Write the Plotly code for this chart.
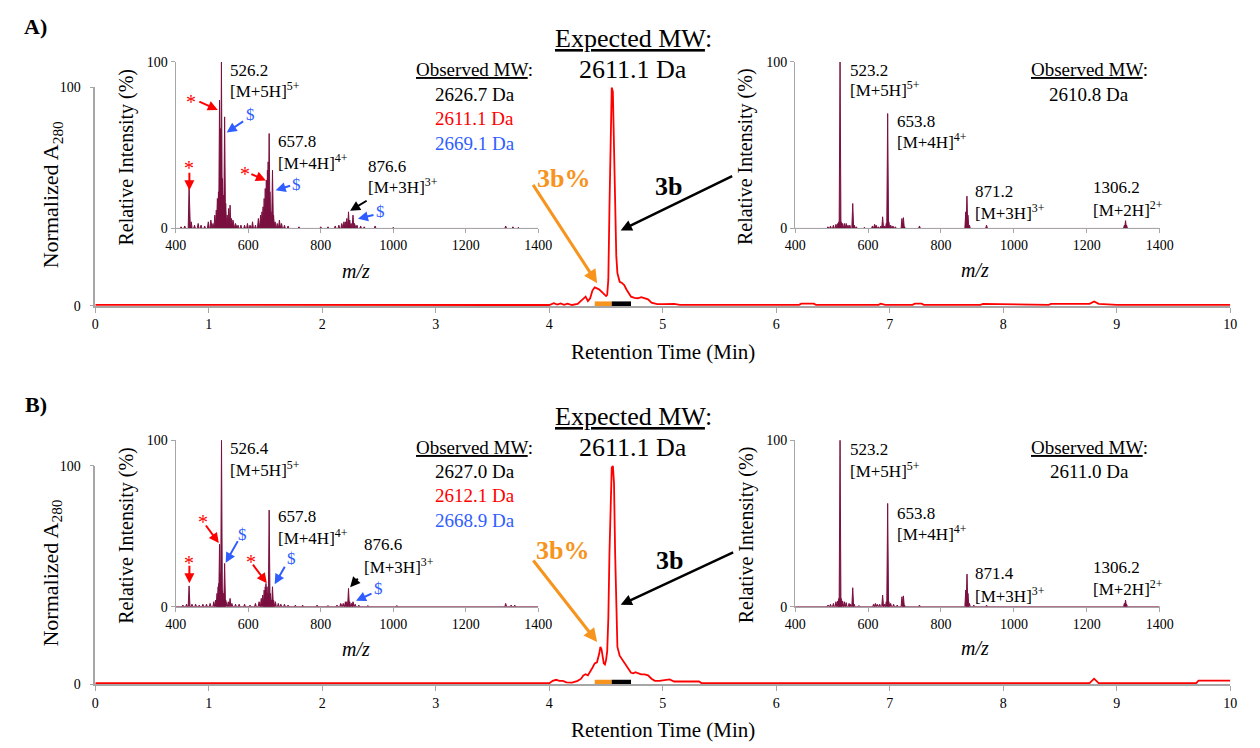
import plotly.graph_objects as go

W, H = 1260, 748
FONT = "Liberation Serif, Times New Roman, serif"
MAROON = "#7A1040"
RED = "#FF0000"
BLUE = "#2F5DFF"
ORANGE = "#F7941D"
GRAY = "#A6A6A6"

# ---------------- Chromatogram data (Normalized A280 vs retention time) ----------------
time_a = [0.0, 1.0, 2.0, 3.0, 3.98, 4.0, 4.04, 4.07, 4.10, 4.13, 4.16, 4.20, 4.25, 4.28,
          4.30, 4.32, 4.34, 4.36, 4.38, 4.40, 4.42, 4.44, 4.46, 4.48, 4.50, 4.51, 4.52,
          4.53, 4.54, 4.55, 4.56, 4.57, 4.58, 4.59, 4.60, 4.62, 4.64, 4.66, 4.68, 4.70,
          4.72, 4.75, 4.78, 4.81, 4.84, 4.87, 4.90, 4.95, 5.00, 5.05, 5.10, 5.15,
          5.30, 6.20, 6.22, 6.33, 6.35, 6.90, 6.92, 6.96, 7.20, 7.22, 7.28, 7.30,
          7.80, 7.82, 8.40, 8.42, 8.76, 8.80, 8.84, 9.00, 10.0]
abs_a = [0.5, 0.5, 0.5, 0.5, 0.5, 0.4, 1.2, 0.6, 1.1, 0.5, 1.0, 0.4, 0.9, 2.2,
         3.0, 4.2, 2.2, 3.5, 7.0, 8.5, 8.0, 7.5, 6.5, 5.5, 4.5, 5.0, 12.0,
         45.0, 85.0, 100.0, 98.0, 75.0, 40.0, 23.0, 15.0, 11.0, 10.5, 9.5, 7.5, 5.5,
         4.2, 3.7, 3.5, 4.0, 3.4, 3.0, 1.5, 0.8, 0.8, 0.9, 0.9, 0.5,
         0.5, 0.5, 1.0, 1.0, 0.5, 0.5, 1.0, 0.5, 0.5, 1.0, 1.0, 0.5,
         0.5, 0.9, 0.5, 0.9, 0.9, 2.0, 0.9, 0.5, 0.5]

time_b = [0.0, 1.0, 2.0, 3.0, 3.98, 4.0, 4.03, 4.06, 4.09, 4.12, 4.15, 4.20, 4.25, 4.28,
          4.30, 4.32, 4.34, 4.36, 4.38, 4.40, 4.42, 4.44, 4.45, 4.46, 4.47, 4.48, 4.49,
          4.50, 4.51, 4.52, 4.53, 4.54, 4.55, 4.56, 4.57, 4.58, 4.59, 4.60, 4.62, 4.64,
          4.66, 4.68, 4.70, 4.72, 4.74, 4.76, 4.78, 4.81, 4.84, 4.87, 4.90, 4.93, 4.97,
          5.03, 5.06, 5.10, 5.20, 5.32, 5.34, 8.76, 8.80, 8.84, 9.70, 9.72, 10.0]
abs_b = [0.5, 0.5, 0.5, 0.5, 0.5, 0.4, 1.5, 2.0, 1.5, 1.5, 0.8, 0.7, 1.5, 2.5,
         4.0, 4.5, 4.0, 5.5, 7.5, 9.5, 10.0, 14.0, 17.0, 16.0, 13.0, 9.5, 9.0,
         11.0, 15.0, 30.0, 60.0, 88.0, 99.0, 100.0, 92.0, 60.0, 32.0, 17.0, 13.0, 11.5,
         10.0, 8.0, 6.5, 5.2, 5.0, 5.5, 5.0, 4.5, 4.5, 4.0, 2.5, 1.5, 1.5,
         2.0, 2.2, 1.2, 1.2, 1.2, 0.5, 0.5, 2.5, 0.5, 0.5, 1.6, 1.6]

# collected fractions (start / end retention time)
frac_names = ["3b%", "3b"]
frac_start = [4.40, 4.55]
frac_end = [4.55, 4.72]
frac_colors = [ORANGE, "black"]

# ---------------- Mass spectra (m/z, relative intensity %) ----------------
mz_a_left = [415, 425, 437, 443, 452, 462, 470, 480, 490, 497, 503, 508, 512, 515, 518,
             521, 524, 526.2, 529, 532, 535, 538, 542, 546, 550, 554, 558, 565, 572, 580,
             590, 598, 605, 612, 620, 628, 634, 638, 641, 644, 647, 650, 653, 655, 657.8,
             660, 663, 667, 670, 674, 680, 686, 692, 700, 710, 740, 800, 820, 840, 850,
             858, 864, 868, 872, 876.6, 880, 884, 889, 893, 900, 910, 920, 950, 1000,
             1310, 1330, 1345]
int_a_left = [1, 1.5, 25, 4, 2, 3, 2, 1.5, 4, 5, 3, 8, 11, 18, 22,
              77, 60, 100, 30, 20, 67, 15, 8, 12, 14, 6, 5, 3, 2, 2,
              2, 3, 2, 4, 2, 6, 8, 10, 13, 18, 24, 29, 35, 40, 57,
              22, 10, 35, 8, 4, 3, 5, 3, 2, 1.5, 1, 1, 1, 1.5, 2,
              3, 4, 4, 6, 10, 5, 3, 8, 3, 2, 1.5, 1, 1.5, 0.7,
              1.5, 1, 0.7]

mz_a_right = [490, 497, 505, 512, 517, 520, 523.2, 526, 530, 535, 540, 545, 550, 558, 562,
              568, 590, 612, 618, 622, 628, 635, 640, 645, 650, 653.8, 657, 662, 668, 675,
              693, 697, 700, 741, 868, 871.2, 874, 878, 925, 1303, 1306.2, 1309]
int_a_right = [1, 1.5, 2, 2.5, 3, 4, 100, 4, 3, 3, 3, 2, 2, 15, 2,
               1, 0.7, 1.5, 2.5, 2, 1, 1.5, 7, 1.5, 3, 69, 4, 2, 1.5, 1,
               6, 6.5, 1, 1.5, 10, 19.4, 8, 2, 2, 2, 4.7, 2]

mz_b_left = [420, 430, 437, 445, 455, 465, 475, 485, 495, 505, 510, 514, 517, 519, 521,
             523, 526.4, 529, 532, 535, 538, 545, 550, 555, 565, 575, 590, 605, 620, 630,
             636, 640, 644, 647, 649, 652, 655, 657.8, 661, 664, 667, 670, 675, 683, 690,
             700, 710, 730, 750, 790, 820, 845, 855, 862, 868, 872, 876.6, 880, 885, 889,
             895, 905, 930, 1010, 1310, 1325, 1335]
int_b_left = [1, 1.5, 12.5, 1.5, 1.5, 1, 1.5, 1.5, 2, 3, 4, 8, 12, 14, 37.5,
              20, 100, 10, 8, 26, 4, 3, 5, 2, 1.5, 1.5, 1.5, 1, 2, 3,
              5, 7, 10, 12, 14, 12, 8, 58, 8, 4, 12, 4, 3, 2, 1.5,
              1.5, 1, 1, 1, 1, 0.7, 1, 2, 2, 3, 3, 11, 3, 2, 3,
              1.5, 1, 0.7, 0.7, 2, 1, 1]

mz_b_right = [490, 497, 505, 512, 517, 520, 523.2, 526, 530, 535, 540, 548, 552, 558, 562,
              575, 615, 620, 625, 632, 640, 645, 650, 653.8, 657, 662, 670, 680, 693, 697,
              700, 741, 868, 871.4, 874, 878, 890, 925, 1303, 1306.2, 1309]
int_b_right = [1, 1.5, 2, 3, 3.5, 5, 100, 5, 3.5, 3, 2.5, 2, 1.5, 11.4, 1.5,
               0.7, 1.5, 2, 1.5, 1.5, 7, 1.5, 3, 62, 3, 2, 1.5, 1, 6, 6.5,
               1, 1, 10, 19.6, 8, 2, 1, 1, 2, 4, 1.5]

mw_expected = "2611.1 Da"
obs_a_left = ["2626.7 Da", "2611.1 Da", "2669.1 Da"]
obs_a_right = ["2610.8 Da"]
obs_b_left = ["2627.0 Da", "2612.1 Da", "2668.9 Da"]
obs_b_right = ["2611.0 Da"]


def profile(mz, inten, hw=2.5):
    xs, ys = [400], [0]
    for m, i in sorted(zip(mz, inten)):
        xs += [m - hw, m, m + hw]
        ys += [0, i, 0]
    xs.append(1400)
    ys.append(0)
    return xs, ys


def dx(a, b):
    return [a / W, b / W]


def dy(bottom, top):
    return [1 - bottom / H, 1 - top / H]


fig = go.Figure()

# main chromatograms
for t, a, xa, ya in [(time_a, abs_a, "x", "y"), (time_b, abs_b, "x4", "y4")]:
    fig.add_trace(go.Scatter(x=t, y=a, xaxis=xa, yaxis=ya, mode="lines",
                             line=dict(color=RED, width=1.8), hoverinfo="skip"))
    for s, e, c in zip(frac_start, frac_end, frac_colors):
        fig.add_trace(go.Scatter(x=[s, e], y=[0.9, 0.9], xaxis=xa, yaxis=ya, mode="lines",
                                 line=dict(color=c, width=5), hoverinfo="skip"))

# spectra
for mz, it, xa, ya in [(mz_a_left, int_a_left, "x2", "y2"), (mz_a_right, int_a_right, "x3", "y3"),
                       (mz_b_left, int_b_left, "x5", "y5"), (mz_b_right, int_b_right, "x6", "y6")]:
    xs, ys = profile(mz, it)
    fig.add_trace(go.Scatter(x=xs, y=ys, xaxis=xa, yaxis=ya, mode="lines",
                             line=dict(color=MAROON, width=1), fill="tozeroy",
                             fillcolor=MAROON, hoverinfo="skip"))

tickfont = dict(family=FONT, size=14, color="black")


def main_x(dom_y_anchor):
    return dict(domain=dx(86, 1244), range=[0, 10], anchor=dom_y_anchor, showline=True,
                linecolor=GRAY, linewidth=1.5, ticks="outside", tickcolor=GRAY, ticklen=5,
                tickvals=list(range(11)), tickfont=tickfont, showgrid=False, zeroline=False)


def main_y(dom, anchor):
    return dict(domain=dom, range=[0, 100], anchor=anchor, showline=True, linecolor=GRAY,
                linewidth=1.5, ticks="outside", tickcolor=GRAY, ticklen=4, tickvals=[0, 100],
                tickfont=tickfont, showgrid=False, zeroline=False, ticklabelstandoff=6)


def ins_x(dom, anchor):
    return dict(domain=dom, range=[400, 1400], anchor=anchor, showline=True, linecolor=GRAY,
                linewidth=1, ticks="outside", tickcolor=GRAY, ticklen=4,
                tickvals=[400, 600, 800, 1000, 1200, 1400], tickfont=tickfont,
                showgrid=False, zeroline=False)


def ins_y(dom, anchor):
    return dict(domain=dom, range=[0, 100], anchor=anchor, showline=True, linecolor=GRAY,
                linewidth=1, ticks="outside", tickcolor=GRAY, ticklen=4, tickvals=[0, 100],
                tickfont=tickfont, showgrid=False, zeroline=False)


layout = dict(
    width=W, height=H, margin=dict(l=0, r=0, t=0, b=0), showlegend=False,
    paper_bgcolor="white", plot_bgcolor="rgba(0,0,0,0)",
    font=dict(family=FONT, size=14, color="black"),
    xaxis=main_x("y"), yaxis=main_y(dy(305, 82), "x"),
    xaxis2=ins_x(dx(168, 538), "y2"), yaxis2=ins_y(dy(226, 56), "x2"),
    xaxis3=ins_x(dx(800, 1172), "y3"), yaxis3=ins_y(dy(226, 56), "x3"),
    xaxis4=main_x("y4"), yaxis4=main_y(dy(691, 468), "x4"),
    xaxis5=ins_x(dx(168, 538), "y5"), yaxis5=ins_y(dy(612, 442), "x5"),
    xaxis6=ins_x(dx(800, 1172), "y6"), yaxis6=ins_y(dy(612, 442), "x6"),
)

ann = []


def T(x, y, text, size=17, color="black", xanchor="center", angle=0):
    ann.append(dict(x=x / W, y=1 - y / H, xref="paper", yref="paper", text=text,
                    showarrow=False, font=dict(family=FONT, size=size, color=color),
                    xanchor=xanchor, yanchor="middle", textangle=angle))


def A(hx, hy, tx, ty, color, width=2.0, size=1.0):
    ann.append(dict(x=hx / W, y=1 - hy / H, xref="paper", yref="paper", ax=tx - hx, ay=ty - hy,
                    text="", showarrow=True, arrowhead=2, arrowsize=size, arrowwidth=width,
                    arrowcolor=color, font=dict(family=FONT, size=12)))


for off, tag in [(0, "A)"), (386, "B)")]:
    T(25, 20 + off, "<b>%s</b>" % tag, size=22)
    T(42, 192 + off, "Normalized A<sub>280</sub>", size=22, angle=-90)
    T(665, 352 + off, "Retention Time (Min)", size=21)
    T(118, 153 + off, "Relative Intensity (%)", size=20, angle=-90)
    T(750, 153 + off, "Relative Intensity (%)", size=20, angle=-90)
    T(352, 269 + off, "<i>m/z</i>", size=20)
    T(984, 268 + off, "<i>m/z</i>", size=20)
    T(635, 32 + off, "<u>Expected MW</u>:", size=26)
    T(635, 64 + off, mw_expected, size=26)
    T(473, 64 + off, "<u>Observed MW</u>:", size=19)
    T(1100, 64 + off, "<u>Observed MW</u>:", size=19)

# panel A text
T(473, 89, obs_a_left[0], size=19)
T(473, 114, obs_a_left[1], size=19, color=RED)
T(473, 139, obs_a_left[2], size=19, color=BLUE)
T(1100, 89, obs_a_right[0], size=19)
T(221, 65, "526.2", xanchor="left")
T(221, 85, "[M+5H]<sup>5+</sup>", xanchor="left")
T(270, 137, "657.8", xanchor="left")
T(270, 158, "[M+4H]<sup>4+</sup>", xanchor="left")
T(362, 163, "876.6", xanchor="left")
T(362, 183, "[M+3H]<sup>3+</sup>", xanchor="left")
T(854, 65, "523.2", xanchor="left")
T(854, 84, "[M+5H]<sup>5+</sup>", xanchor="left")
T(902, 117, "653.8", xanchor="left")
T(902, 137, "[M+4H]<sup>4+</sup>", xanchor="left")
T(981, 188, "871.2", xanchor="left")
T(981, 209, "[M+3H]<sup>3+</sup>", xanchor="left")
T(1102, 184, "1306.2", xanchor="left")
T(1102, 206, "[M+2H]<sup>2+</sup>", xanchor="left")
T(564, 175, "<b>3b%</b>", size=26, color=ORANGE)
T(671, 183, "<b>3b</b>", size=26)

# panel B text
T(473, 474, obs_b_left[0], size=19)
T(473, 499, obs_b_left[1], size=19, color=RED)
T(473, 524, obs_b_left[2], size=19, color=BLUE)
T(1100, 474, obs_b_right[0], size=19)
T(221, 451, "526.4", xanchor="left")
T(221, 471, "[M+5H]<sup>5+</sup>", xanchor="left")
T(270, 520, "657.8", xanchor="left")
T(270, 541, "[M+4H]<sup>4+</sup>", xanchor="left")
T(358, 548, "876.6", xanchor="left")
T(358, 570, "[M+3H]<sup>3+</sup>", xanchor="left")
T(854, 452, "523.2", xanchor="left")
T(854, 472, "[M+5H]<sup>5+</sup>", xanchor="left")
T(902, 517, "653.8", xanchor="left")
T(902, 537, "[M+4H]<sup>4+</sup>", xanchor="left")
T(981, 578, "871.4", xanchor="left")
T(981, 600, "[M+3H]<sup>3+</sup>", xanchor="left")
T(1102, 572, "1306.2", xanchor="left")
T(1102, 593, "[M+2H]<sup>2+</sup>", xanchor="left")
T(563, 555, "<b>3b%</b>", size=26, color=ORANGE)
T(672, 565, "<b>3b</b>", size=26)

# markers * and $
for x, y in [(184, 97), (182, 164), (239, 170), (182, 567), (196, 526), (245, 566)]:
    T(x, y, "*", size=20, color=RED)
for x, y in [(244, 110), (291, 181), (377, 209), (236, 538), (286, 563), (375, 593)]:
    T(x, y, "$", size=17, color=BLUE)

# arrows panel A
A(211, 105, 191, 96, RED)
A(220, 128, 238, 116, BLUE)
A(182, 187, 182, 168, RED)
A(260, 177, 244, 170, RED)
A(270, 187, 286, 182, BLUE)
A(346, 208, 364, 197, "black")
A(354, 216, 371, 212, BLUE)
A(598, 282, 533, 182, ORANGE, width=3, size=0.9)
A(622, 228, 735, 173, "black", width=2.5, size=0.9)
# arrows panel B
A(182, 588, 182, 569, RED)
A(212, 547, 198, 528, RED)
A(219, 567, 232, 544, BLUE)
A(261, 588, 246, 568, RED)
A(269, 589, 280, 570, BLUE)
A(346, 592, 355, 582, "black")
A(352, 606, 369, 598, BLUE)
A(598, 648, 533, 565, ORANGE, width=3, size=0.9)
A(622, 610, 736, 557, "black", width=2.5, size=0.9)

layout["annotations"] = ann
fig.update_layout(**layout)
fig.write_html("out.html")
